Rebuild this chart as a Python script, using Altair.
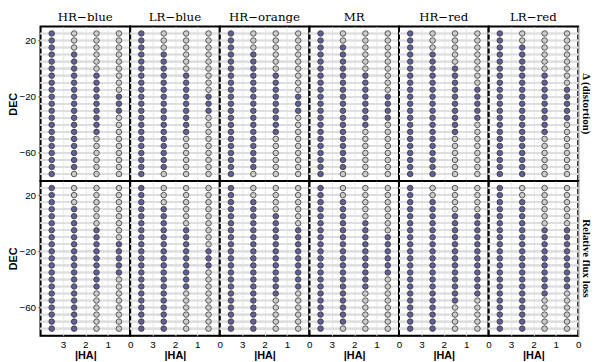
import altair as alt
import pandas as pd

panels = ["HR\u2212blue", "LR\u2212blue", "HR\u2212orange", "MR", "HR\u2212red", "LR\u2212red"]
metrics = ["\u0394 (distortion)", "Relative flux loss"]
ha_values = [3.5, 2.5, 1.5, 0.5]
dec_values = [25, 20, 15, 10, 5, 0, -5, -10, -15, -20, -25, -30, -35, -40, -45, -50, -55, -60, -65, -70, -75]

# 1 = filled (blue), 0 = open; one string per |HA| column, DEC from +25 down to -75
ALL = "1" * 21
distortion = {
    "HR\u2212blue":   [ALL, "000" + "1" * 17 + "0", "0" * 6 + "1" * 9 + "0" * 6, "0" * 9 + "111" + "0" * 9],
    "LR\u2212blue":   [ALL, "000" + "1" * 17 + "0", "0" * 6 + "1" * 9 + "0" * 6, "0" * 9 + "111" + "0" * 9],
    "HR\u2212orange": [ALL, "000" + "1" * 17 + "0", "0" * 6 + "1" * 9 + "0" * 6, "0" * 9 + "111" + "0" * 9],
    "MR":             [ALL, "00" + "1" * 18 + "0", "0" * 6 + "1" * 8 + "0" * 7, "0" * 9 + "1111" + "0" * 8],
    "HR\u2212red":    [ALL, "000" + "1" * 18, "0" * 5 + "1" * 10 + "0" * 6, "0" * 8 + "1" * 5 + "0" * 8],
    "LR\u2212red":    [ALL, "00" + "1" * 19, "0" * 6 + "1" * 9 + "0" * 6, "0" * 8 + "1" * 5 + "0" * 8],
}
fluxloss = {
    "HR\u2212blue":   [ALL, "000" + "1" * 18, "0" * 6 + "1" * 9 + "0" * 6, "0" * 8 + "1" * 5 + "0" * 8],
    "LR\u2212blue":   [ALL, "000" + "1" * 18, "0" * 6 + "1" * 9 + "0" * 6, "0" * 9 + "111" + "0" * 9],
    "HR\u2212orange": [ALL, "00" + "1" * 19, "0" * 4 + "1" * 12 + "0" * 5, "0" * 6 + "1" * 9 + "0" * 6],
    "MR":             [ALL, "00" + "1" * 18 + "0", "0" * 5 + "1" * 10 + "0" * 6, "0" * 7 + "1" * 6 + "0" * 8],
    "HR\u2212red":    [ALL, "00" + "1" * 19, "0" * 4 + "1" * 13 + "0" * 4, "0" * 4 + "1" * 12 + "0" * 5],
    "LR\u2212red":    [ALL, "00" + "1" * 19, "0" * 6 + "1" * 10 + "0" * 5, "0" * 6 + "1" * 9 + "0" * 6],
}

rows = []
for metric, table in zip(metrics, [distortion, fluxloss]):
    for p in panels:
        for ha, pattern in zip(ha_values, table[p]):
            for dec, c in zip(dec_values, pattern):
                rows.append({"metric": metric, "panel": p, "HA": ha, "DEC": dec,
                             "state": "filled" if c == "1" else "open"})
df = pd.DataFrame(rows)

xscale = alt.Scale(domain=[4, 0], nice=False, zero=False)
yscale = alt.Scale(domain=[-80, 30], nice=False, zero=False)

base = alt.Chart(df)
rules = base.mark_rule(color="#dedede", strokeWidth=1.6).encode(
    y=alt.Y("DEC:Q", scale=yscale)
)
points = base.mark_circle(size=32, stroke="#333333", strokeWidth=0.8, opacity=1).encode(
    x=alt.X("HA:Q", scale=xscale, title="|HA|",
            axis=alt.Axis(values=[3, 2, 1, 0], grid=True, gridColor="#e0e0e0", gridWidth=0.8,
                          tickSize=0, labelFlush=False, labelOverlap=False, labelPadding=4,
                          titlePadding=0)),
    y=alt.Y("DEC:Q", scale=yscale, title="DEC",
            axis=alt.Axis(values=[20, 0, -20, -40, -60], grid=False, tickSize=3,
                          labelPadding=2, titlePadding=0)),
    fill=alt.Fill("state:N", scale=alt.Scale(domain=["open", "filled"], range=["#cbcbcb", "#625f96"]),
                  legend=None),
)

chart = alt.layer(rules, points).properties(
    width=91, height=157,
    view=alt.ViewBackground(stroke="#000000", strokeWidth=2),
).facet(
    row=alt.Row("metric:N", sort=metrics,
                header=alt.Header(title=None, labelOrient="right", labelAngle=90,
                                  labelFont="Liberation Serif", labelFontWeight="bold",
                                  labelFontSize=11, labelPadding=3)),
    column=alt.Column("panel:N", sort=panels,
                      header=alt.Header(title=None, labelOrient="top", labelFont="DejaVu Serif",
                                        labelFontSize=12, labelPadding=3)),
    spacing=0,
    bounds="flush",
).configure_view(stroke="#000000", strokeWidth=2).configure_axis(
    labelFont="Liberation Sans", labelFontWeight="bold", labelFontSize=10, labelColor="#000",
    titleFont="Liberation Serif", titleFontSize=9, titleFontWeight="bold", titleColor="#000",
    tickColor="#000", domain=False,
).configure(padding=0)

chart.save("out.html", embed_options={"renderer": "svg", "actions": False})
